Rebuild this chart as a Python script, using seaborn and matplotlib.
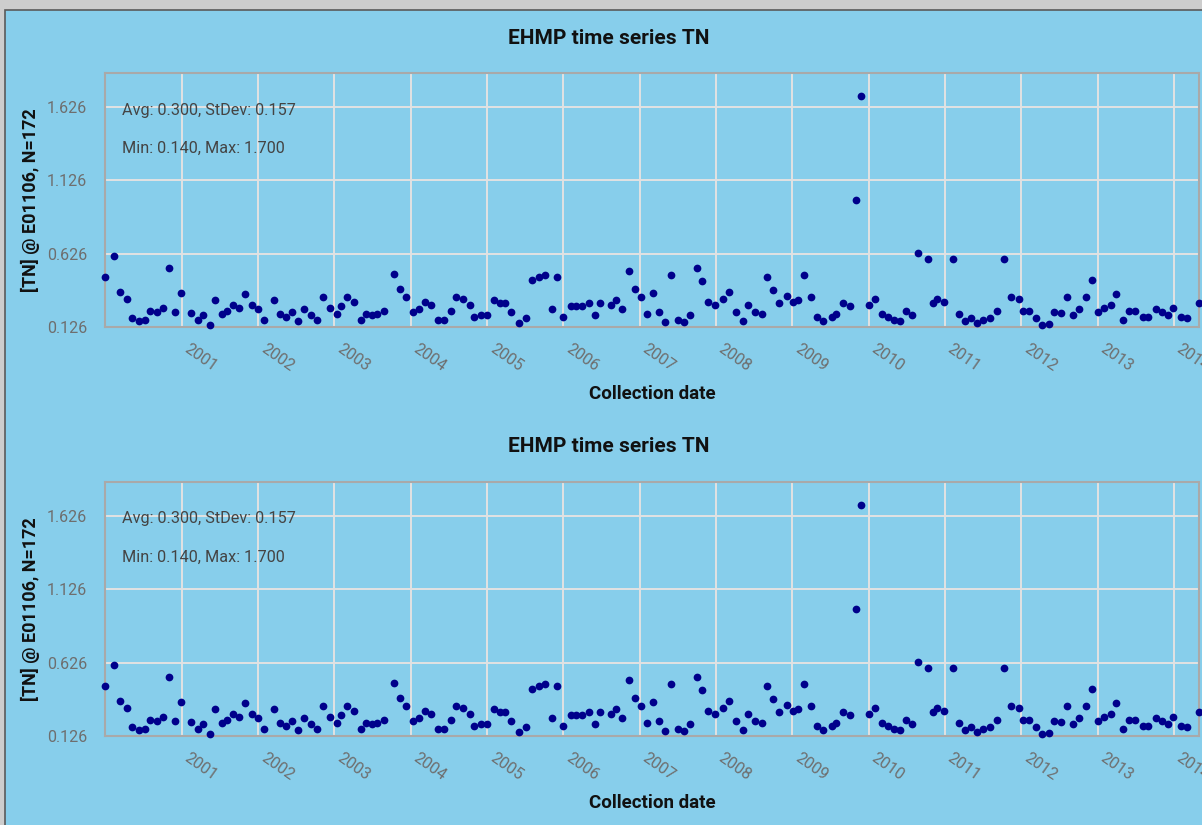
import numpy as np
import pandas as pd
import matplotlib
matplotlib.use("Agg")
import matplotlib.pyplot as plt
import matplotlib.transforms as mtransforms
from matplotlib.patches import Rectangle
import seaborn as sns

# Sampling times (decimal years) and total nitrogen concentrations at site E01106
sample_years = [
    2000.000, 2000.109, 2000.187, 2000.283, 2000.354, 2000.436, 2000.524, 2000.590, 2000.676, 2000.760,
    2000.834, 2000.917, 2000.987, 2001.122, 2001.210, 2001.275, 2001.376, 2001.442, 2001.524, 2001.599,
    2001.672, 2001.756, 2001.835, 2001.921, 2002.000, 2002.084, 2002.210, 2002.288, 2002.367, 2002.446,
    2002.524, 2002.608, 2002.695, 2002.773, 2002.852, 2002.949, 2003.041, 2003.093, 2003.166, 2003.254,
    2003.350, 2003.421, 2003.494, 2003.560, 2003.657, 2003.782, 2003.866, 2003.945, 2004.031, 2004.115,
    2004.194, 2004.267, 2004.355, 2004.438, 2004.535, 2004.591, 2004.687, 2004.775, 2004.836, 2004.923,
    2005.001, 2005.089, 2005.164, 2005.237, 2005.316, 2005.421, 2005.512, 2005.596, 2005.679, 2005.754,
    2005.858, 2005.919, 2005.997, 2006.102, 2006.164, 2006.242, 2006.334, 2006.417, 2006.482, 2006.626,
    2006.688, 2006.771, 2006.855, 2006.937, 2007.020, 2007.094, 2007.177, 2007.256, 2007.334, 2007.413,
    2007.501, 2007.579, 2007.658, 2007.750, 2007.824, 2007.903, 2007.986, 2008.100, 2008.178, 2008.270,
    2008.353, 2008.422, 2008.506, 2008.598, 2008.671, 2008.750, 2008.828, 2008.925, 2009.004, 2009.077,
    2009.152, 2009.240, 2009.322, 2009.401, 2009.519, 2009.567, 2009.667, 2009.759, 2009.834, 2009.899,
    2010.000, 2010.087, 2010.170, 2010.249, 2010.332, 2010.414, 2010.489, 2010.568, 2010.642, 2010.781,
    2010.847, 2010.895, 2010.987, 2011.101, 2011.183, 2011.262, 2011.337, 2011.419, 2011.502, 2011.586,
    2011.682, 2011.782, 2011.869, 2011.966, 2012.026, 2012.105, 2012.193, 2012.275, 2012.359, 2012.429,
    2012.516, 2012.595, 2012.674, 2012.760, 2012.844, 2012.927, 2013.001, 2013.080, 2013.172, 2013.237,
    2013.337, 2013.408, 2013.486, 2013.591, 2013.657, 2013.766, 2013.848, 2013.919, 2013.984, 2014.093,
    2014.176, 2014.325,
]

tn_values = [
    0.468, 0.607, 0.366, 0.316, 0.187, 0.167, 0.176, 0.237, 0.228, 0.257,
    0.527, 0.228, 0.357, 0.219, 0.176, 0.208, 0.140, 0.308, 0.216, 0.237,
    0.278, 0.255, 0.348, 0.278, 0.248, 0.176, 0.308, 0.216, 0.196, 0.228,
    0.167, 0.248, 0.206, 0.176, 0.328, 0.257, 0.216, 0.267, 0.328, 0.296,
    0.176, 0.216, 0.208, 0.216, 0.237, 0.487, 0.387, 0.328, 0.226, 0.246,
    0.296, 0.278, 0.176, 0.176, 0.237, 0.328, 0.316, 0.278, 0.196, 0.206,
    0.206, 0.308, 0.287, 0.287, 0.226, 0.155, 0.187, 0.446, 0.466, 0.478,
    0.246, 0.466, 0.196, 0.267, 0.267, 0.267, 0.287, 0.206, 0.287, 0.278,
    0.308, 0.246, 0.507, 0.387, 0.328, 0.216, 0.357, 0.226, 0.158, 0.478,
    0.176, 0.158, 0.208, 0.527, 0.437, 0.296, 0.276, 0.316, 0.366, 0.226,
    0.167, 0.278, 0.228, 0.216, 0.466, 0.378, 0.287, 0.337, 0.296, 0.308,
    0.478, 0.328, 0.196, 0.167, 0.196, 0.216, 0.287, 0.267, 0.990, 1.700,
    0.276, 0.316, 0.216, 0.196, 0.176, 0.167, 0.237, 0.206, 0.627, 0.587,
    0.287, 0.316, 0.296, 0.587, 0.216, 0.167, 0.187, 0.155, 0.176, 0.187,
    0.237, 0.587, 0.328, 0.316, 0.237, 0.237, 0.187, 0.140, 0.146, 0.228,
    0.219, 0.328, 0.208, 0.246, 0.328, 0.448, 0.228, 0.257, 0.278, 0.348,
    0.176, 0.237, 0.237, 0.196, 0.196, 0.246, 0.228, 0.208, 0.257, 0.196,
    0.185, 0.287,
]

chart_title = "EHMP time series TN"
y_label = "[TN] @ E01106, N=172"
x_label = "Collection date"
stat_lines = ["Avg: 0.300, StDev: 0.157", "Min: 0.140, Max: 1.700"]
y_ticks = [0.126, 0.626, 1.126, 1.626]
year_ticks = list(range(2001, 2015))
x_range = (2000.0, 2014.33)
y_range = (0.126, 1.854)


def to_timestamp(y):
    yr = int(np.floor(y))
    start = pd.Timestamp(year=yr, month=1, day=1)
    end = pd.Timestamp(year=yr + 1, month=1, day=1)
    return start + (end - start) * (y - yr)


df = pd.DataFrame({"date": [to_timestamp(v) for v in sample_years], "TN": tn_values})

sns.set_theme(style="white")
plt.rcParams["font.family"] = ["Roboto", "DejaVu Sans"]

BG = "#87CEEB"
DOT = "#00008B"
W, H = 1202, 825

fig = plt.figure(figsize=(W / 100, H / 100), dpi=100)
fig.patch.set_facecolor("#cdcdcd")
fig.add_artist(Rectangle((5 / W, -0.05), 1.2, 1.05 - 10 / H, transform=fig.transFigure,
                         facecolor=BG, edgecolor="#5a5a5a", linewidth=1.2, zorder=0))

left, right = 105.3 / W, 1199 / W
panels = [(73, 327, 38), (482, 736, 446)]
label_shift = mtransforms.ScaledTranslation(-3 / 100, 2 / 100, fig.dpi_scale_trans)

for top_px, bot_px, title_px in panels:
    ax = fig.add_axes([left, 1 - bot_px / H, right - left, (bot_px - top_px) / H])
    ax.set_facecolor(BG)
    sns.scatterplot(data=df, x="date", y="TN", ax=ax, color=DOT, s=31,
                    linewidth=0, clip_on=False, zorder=3)
    ax.set_xlim(to_timestamp(x_range[0]), to_timestamp(x_range[1]))
    ax.set_ylim(*y_range)
    ax.set_yticks(y_ticks)
    ax.set_yticklabels([f"{v:.3f}" for v in y_ticks])
    ax.set_xticks([pd.Timestamp(year=y, month=1, day=1) for y in year_ticks])
    ax.set_xticklabels([str(y) for y in year_ticks], rotation=-35, ha="left", va="top")
    for lbl in ax.get_xticklabels():
        lbl.set_transform(lbl.get_transform() + label_shift)
    ax.set_xlabel("")
    ax.set_ylabel("")
    ax.grid(True, color="#e2e2e2", linewidth=1.4)
    ax.set_axisbelow(True)
    for side in ["left", "bottom", "top", "right"]:
        ax.spines[side].set_color("#a9a9a9")
        ax.spines[side].set_linewidth(1.5)
    ax.tick_params(axis="both", length=7, width=1.2, color="#b0b0b0",
                   labelcolor="#6e6e6e", labelsize=11.5)
    ax.tick_params(axis="y", pad=6)
    ax.tick_params(axis="x", pad=3)

    h = bot_px - top_px
    for i, line in enumerate(stat_lines):
        ax.text((122 - 105.3) / (1199 - 105.3), (bot_px - (top_px + 37 + 38 * i)) / h, line,
                transform=ax.transAxes, ha="left", va="center", fontsize=11.7,
                color="#444444")

    ax.text(0.5, -(394 - 327) / h, x_label, transform=ax.transAxes, ha="center",
            va="center", fontsize=13.5, fontweight="bold", color="#111111")
    ax.text((30 - 105.3) / (1199 - 105.3), 0.5, y_label, transform=ax.transAxes,
            rotation=90, ha="center", va="center", fontsize=13, fontweight="bold",
            color="#111111")

    fig.text(609 / W, 1 - title_px / H, chart_title, ha="center", va="center",
             fontsize=15, fontweight="bold", color="#111111")

fig.savefig("out.png", dpi=100, facecolor=fig.get_facecolor())
